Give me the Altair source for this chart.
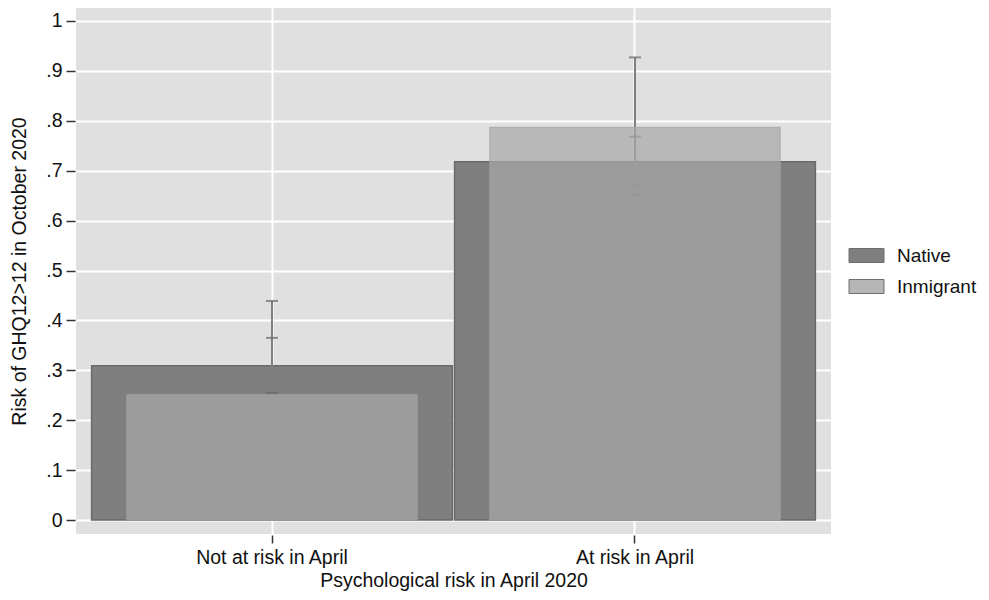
import altair as alt
import pandas as pd

categories = ["Not at risk in April", "At risk in April"]
groups = ["Native", "Inmigrant"]
native_mean = [0.309, 0.718]
native_lo = [0.255, 0.670]
native_hi = [0.365, 0.768]
inm_mean = [0.251, 0.787]
inm_lo = [0.064, 0.652]
inm_hi = [0.439, 0.927]
y_ticks = [0, 0.1, 0.2, 0.3, 0.4, 0.5, 0.6, 0.7, 0.8, 0.9, 1.0]

rows = []
for i, c in enumerate(categories):
    rows.append({"cat": c, "group": "Native", "mean": native_mean[i], "lo": native_lo[i], "hi": native_hi[i]})
    rows.append({"cat": c, "group": "Inmigrant", "mean": inm_mean[i], "lo": inm_lo[i], "hi": inm_hi[i]})
df = pd.DataFrame(rows)

FONT = "Liberation Sans"
FS = 19.5

xscale = alt.Scale(domain=categories, paddingInner=0, paddingOuter=0.04)
yscale = alt.Scale(domain=[-0.028, 1.026], nice=False, zero=False)
color = alt.Color(
    "group:N",
    scale=alt.Scale(domain=groups, range=["#7f7f7f", "#b6b6b6"]),
    legend=alt.Legend(
        title=None,
        orient="none",
        legendX=781,
        legendY=238,
        symbolType="M-2.5,-1H2.5V1H-2.5Z",
        symbolSize=196,
        symbolStrokeColor="#6f6f6f",
        symbolStrokeWidth=1,
        symbolOpacity=1,
        labelFontSize=19,
        labelFont=FONT,
        labelColor="#111111",
        labelOffset=21,
        rowPadding=11,
    ),
)

xaxis = alt.Axis(
    title="Psychological risk in April 2020",
    titleFontSize=FS,
    titleFont=FONT,
    titleFontWeight="normal",
    titleColor="#111111",
    titlePadding=5,
    labelFontSize=FS,
    labelFont=FONT,
    labelColor="#111111",
    labelAngle=0,
    labelPadding=5,
    bandPosition=0.5,
    domain=False,
    ticks=True,
    tickSize=8,
    tickWidth=1.5,
    tickColor="#333333",
    grid=True,
    gridColor="#ffffff",
    gridWidth=2,
    offset=1,
)

yaxis = alt.Axis(
    title="Risk of GHQ12>12 in October 2020",
    titleFontSize=FS,
    titleFont=FONT,
    titleFontWeight="normal",
    titleColor="#111111",
    titlePadding=16,
    values=y_ticks,
    labelExpr="datum.value == 0 ? '0' : (datum.value == 1 ? '1' : replace(format(datum.value, '.1f'), '0.', '.'))",
    labelFontSize=FS,
    labelFont=FONT,
    labelColor="#111111",
    labelPadding=4,
    domain=False,
    tickSize=9,
    tickWidth=1.5,
    tickColor="#333333",
    grid=True,
    gridColor="#ffffff",
    gridWidth=2,
    offset=1,
)

base = alt.Chart(df)

native_bars = base.transform_filter(alt.datum.group == "Native").mark_bar(
    width=alt.RelativeBandSize(0.994), stroke="#6a6a6a", strokeWidth=1.5
).encode(
    x=alt.X("cat:N", scale=xscale, axis=xaxis, sort=categories),
    y=alt.Y("mean:Q", scale=yscale, axis=yaxis),
    y2=alt.Y2(datum=0),
    color=color,
)

err = base.mark_rule(color="#808080", strokeWidth=2).encode(
    x=alt.X("cat:N", scale=xscale, sort=categories),
    y=alt.Y("lo:Q", scale=yscale),
    y2="hi:Q",
)
caps_lo = base.mark_tick(color="#666666", size=12, thickness=2).encode(
    x=alt.X("cat:N", scale=xscale, sort=categories),
    y=alt.Y("lo:Q", scale=yscale),
)
caps_hi = base.mark_tick(color="#666666", size=12, thickness=2).encode(
    x=alt.X("cat:N", scale=xscale, sort=categories),
    y=alt.Y("hi:Q", scale=yscale),
)

inm_bars = base.transform_filter(alt.datum.group == "Inmigrant").mark_bar(
    width=alt.RelativeBandSize(0.8), fill="#a8a8a8", fillOpacity=0.72,
    stroke="#a4a4a4", strokeWidth=1, strokeOpacity=0.8
).encode(
    x=alt.X("cat:N", scale=xscale, sort=categories),
    y=alt.Y("mean:Q", scale=yscale),
    y2=alt.Y2(datum=0),
    color=color,
)

chart = alt.layer(native_bars, err, caps_lo, caps_hi, inm_bars).properties(
    width=755,
    height=526,
    autosize=alt.AutoSizeParams(type="none"),
    padding={"left": 68, "top": 0, "right": 150, "bottom": 58},
    background="white",
).configure_view(fill="#e0e0e0", strokeWidth=0)

chart.save("out.html", embed_options={"renderer": "svg", "actions": False})
